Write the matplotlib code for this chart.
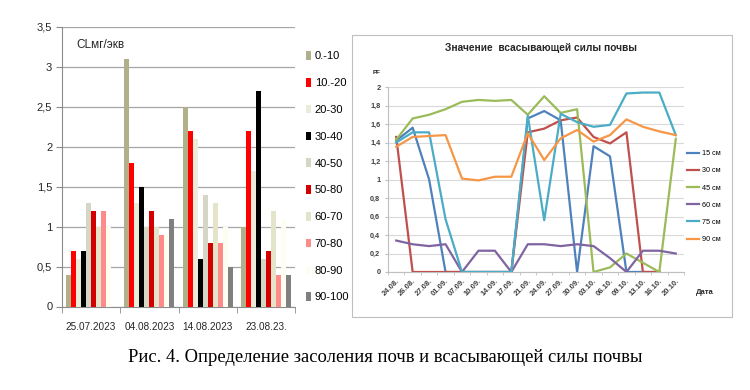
import matplotlib
matplotlib.use("Agg")
import matplotlib.pyplot as plt
import numpy as np
from matplotlib.patches import Rectangle

plt.rcParams["font.family"] = ["Liberation Sans", "DejaVu Sans"]

# --- left chart: chloride content by depth ---
bar_dates = ["25.07.2023", "04.08.2023", "14.08.2023", "23.08.23."]
depths = ["0.-10", "10.-20", "20-30", "30-40", "40-50", "50-80", "60-70", "70-80", "80-90", "90-100"]
d0_10 = [0.4, 3.1, 2.5, 1.0]
d10_20 = [0.7, 1.8, 2.2, 2.2]
d20_30 = [0.6, 1.3, 2.1, 1.7]
d30_40 = [0.7, 1.5, 0.6, 2.7]
d40_50 = [1.3, 1.0, 1.4, 0.6]
d50_80 = [1.2, 1.2, 0.8, 0.7]
d60_70 = [1.0, 1.0, 1.3, 1.2]
d70_80 = [1.2, 0.9, 0.8, 0.4]
d80_90 = [1.0, 0.9, 1.0, 1.1]
d90_100 = [0.0, 1.1, 0.5, 0.4]
bar_colors = ["#B0B08A", "#FF0000", "#ECECDA", "#000000", "#D6D6C6",
              "#D40000", "#E4E4CA", "#FF8A8A", "#FDFDF2", "#808080"]

# --- right chart: soil suction (pF) ---
pf_dates = ["24.08.", "26.08.", "27.08.", "01.09.", "07.09.", "10.09.", "14.09.", "17.09.", "21.09.",
            "24.09.", "27.09.", "30.09.", "03.10.", "06.10.", "09.10.", "13.10.", "16.10.", "20.10."]
nan = np.nan
pf_15 = [1.42, 1.56, 1.00, 0, 0, 0, 0, 0, 1.66, 1.74, 1.64, 0, 1.36, 1.25, 0, 0, 0, nan]
pf_30 = [1.46, 0, 0, 0, 0, 0, 0, 0, 1.51, 1.55, 1.64, 1.67, 1.46, 1.39, 1.51, 0, 0, nan]
pf_45 = [1.43, 1.66, 1.70, 1.76, 1.84, 1.86, 1.85, 1.86, 1.70, 1.90, 1.72, 1.76, 0, 0.05, 0.20, 0.10, 0, 1.44]
pf_60 = [0.34, 0.30, 0.28, 0.30, 0, 0.23, 0.23, 0, 0.30, 0.30, 0.28, 0.30, 0.28, 0.15, 0, 0.23, 0.23, 0.20]
pf_75 = [1.40, 1.51, 1.51, 0.57, 0, 0, 0, 0, 1.69, 0.56, 1.71, 1.62, 1.57, 1.59, 1.93, 1.94, 1.94, 1.48]
pf_90 = [1.355, 1.46, 1.47, 1.48, 1.01, 0.99, 1.03, 1.03, 1.50, 1.21, 1.445, 1.535, 1.41, 1.48, 1.65, 1.57, 1.52, 1.48]
pf_labels = ["15 см", "30 см", "45 см", "60 см", "75 см", "90 см"]
pf_colors = ["#4F81BD", "#C0504D", "#9BBB59", "#8064A2", "#4BACC6", "#F79646"]

W, H = 750, 390


def box(x0, y0, x1, y1):
    # pixel box (top-left origin) -> figure fraction rect
    return [x0 / W, 1 - y1 / H, (x1 - x0) / W, (y1 - y0) / H]


fig = plt.figure(figsize=(7.5, 3.9), dpi=100)
fig.patch.set_facecolor("white")

# ---------------- bar chart ----------------
ax1 = fig.add_axes(box(62, 26.7, 295, 306.5))
bar_series = [d0_10, d10_20, d20_30, d30_40, d40_50, d50_80, d60_70, d70_80, d80_90, d90_100]
x = np.arange(len(bar_dates))
group = 0.86
bw = group / len(bar_series)
for k, (vals, col, name) in enumerate(zip(bar_series, bar_colors, depths)):
    ax1.bar(x - group / 2 + bw * (k + 0.5), vals, bw, color=col, label=name, zorder=3)

ax1.set_xlim(-0.5, len(bar_dates) - 0.5)
ax1.set_ylim(0, 3.5)
yt = np.arange(0, 3.51, 0.5)
ax1.set_yticks(yt)
ax1.set_yticklabels([f"{v:g}".replace(".", ",") for v in yt], fontsize=8, color="#262626")
ax1.yaxis.grid(True, color="#A6A6A6", lw=0.9, zorder=0)
ax1.set_xticks(x)
ax1.set_xticklabels(bar_dates, fontsize=7.2, color="#262626")
ax1.set_xticks(np.arange(-0.5, len(bar_dates)), minor=True)
ax1.tick_params(axis="x", which="major", length=0, pad=11)
ax1.tick_params(axis="x", which="minor", length=4, color="#8C8C8C")
ax1.tick_params(axis="y", length=4, color="#8C8C8C", pad=3)
for s in ["top", "right"]:
    ax1.spines[s].set_visible(False)
for s in ["left", "bottom"]:
    ax1.spines[s].set_color("#8C8C8C")
ax1.legend(loc="upper left", bbox_to_anchor=(303 / W, 1 - 48 / H), bbox_transform=fig.transFigure,
           frameon=False, fontsize=8, handlelength=0.45, handleheight=0.8,
           handletextpad=0.3, labelspacing=1.5, borderaxespad=0, borderpad=0.3)
fig.text(76 / W, 1 - 45 / H, "CLмг/экв", fontsize=8.5, va="center", ha="left", color="#262626")

# ---------------- line chart ----------------
fr = box(352, 35, 732, 317)
fig.add_artist(Rectangle((fr[0], fr[1]), fr[2], fr[3], transform=fig.transFigure,
                         fill=False, ec="#BFBFBF", lw=0.8))

ax2 = fig.add_axes(box(388, 87, 684, 272))
xi = np.arange(len(pf_dates))
for vals, col, name in zip([pf_15, pf_30, pf_45, pf_60, pf_75, pf_90], pf_colors, pf_labels):
    ax2.plot(xi, vals, color=col, lw=1.6, label=name, zorder=3)
ax2.set_xlim(-0.5, len(pf_dates) - 0.5)
ax2.set_ylim(0, 2)
yt2 = np.arange(0, 2.01, 0.2)
ax2.set_yticks(yt2)
ax2.set_yticklabels([f"{v:.1f}".replace(".", ",").replace(",0", "") for v in yt2],
                    fontsize=5.3, color="#404040", fontweight="bold")
ax2.yaxis.grid(True, color="#D9D9D9", lw=0.8, zorder=0)
ax2.set_xticks(xi)
ax2.set_xticklabels(pf_dates, fontsize=5.5, rotation=45, ha="right", va="top",
                    rotation_mode="anchor", color="#404040", fontweight="bold")
ax2.set_xticks(np.arange(-0.5, len(pf_dates)), minor=True)
ax2.tick_params(axis="x", which="major", length=0, pad=4)
ax2.tick_params(axis="x", which="minor", length=2.5, color="#BFBFBF")
ax2.tick_params(axis="y", length=2.5, color="#BFBFBF", pad=3)
for s in ["top", "right"]:
    ax2.spines[s].set_visible(False)
for s in ["left", "bottom"]:
    ax2.spines[s].set_color("#BFBFBF")
ax2.legend(loc="upper left", bbox_to_anchor=(685 / W, 1 - 148 / H), bbox_transform=fig.transFigure,
           frameon=False, fontsize=5.2, handlelength=1.7, handletextpad=0.4,
           labelspacing=1.4, borderaxespad=0, borderpad=0.3)
fig.text(541 / W, 1 - 48 / H, "Значение  всасывающей силы почвы", fontsize=7.3,
         fontweight="bold", ha="center", va="center", color="#262626")
fig.text(377 / W, 1 - 72 / H, "PF", fontsize=4.5, fontweight="bold", ha="center", va="center",
         color="#262626")
fig.text(705 / W, 1 - 293 / H, "Дата", fontsize=5.5, fontweight="bold", ha="center", va="center",
         color="#262626")

# ---------------- caption ----------------
fig.text(385 / W, 1 - 357 / H, "Рис. 4. Определение засоления почв и всасывающей силы почвы",
         fontsize=13.4, family="Liberation Serif", ha="center", va="center", color="#000000")

fig.savefig("out.png", dpi=100, facecolor="white")
